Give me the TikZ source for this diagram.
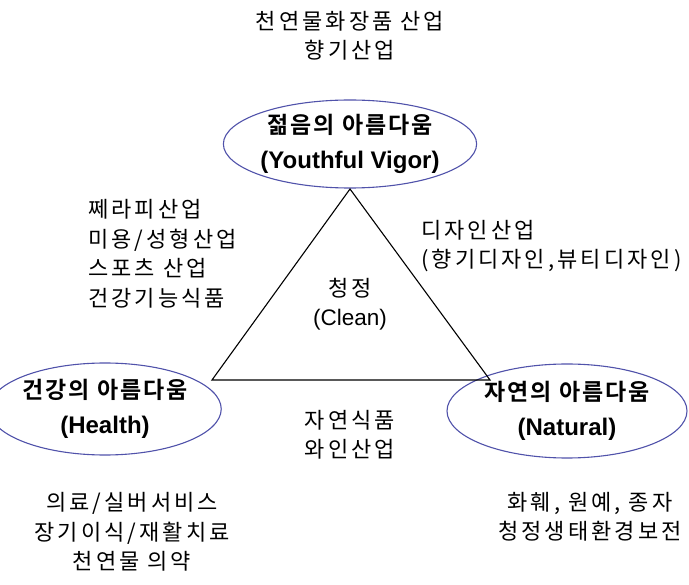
\documentclass[tikz,border=0pt]{standalone}
\usepackage{fontspec}
\usetikzlibrary{shapes.geometric}
\setmainfont{Liberation Sans}
\newfontfamily\kr[LetterSpace=14]{Noto Sans CJK KR}
\newfontfamily\krb[LetterSpace=8]{Noto Sans CJK KR Bold}
\definecolor{ellblue}{RGB}{80,82,170}
\tikzset{
  ell/.style={draw=ellblue, line width=1.1pt, ellipse, inner sep=0pt, align=center,
    font=\fontsize{24}{35}\selectfont},
  ttl/.style={font=\krb\fontsize{23}{35}\selectfont},
  txt/.style={inner sep=0pt, align=center, font=\kr\fontsize{22}{29.5}\selectfont},
  txtl/.style={inner sep=0pt, align=left, anchor=west, font=\kr\fontsize{22}{29.5}\selectfont},
  tri/.style={draw=black, line width=1.1pt}
}
\begin{document}
\begin{tikzpicture}[x=1pt,y=-1pt]
\useasboundingbox (0,0) rectangle (689,585);
% ellipses
\node[ell, minimum width=246pt, minimum height=88pt] (young) at (350,144)
  {{\krb\fontsize{23}{35}\selectfont 젊음의 아름다움}\\\bfseries (Youthful Vigor)};
\node[ell, minimum width=190pt, minimum height=92pt] (health) at (105,409)
  {{\krb\fontsize{23}{35}\selectfont 건강의 아름다움}\\\bfseries (Health)};
\node[ell, minimum width=240pt, minimum height=94pt] (natural) at (567,411)
  {{\krb\fontsize{23}{35}\selectfont 자연의 아름다움}\\\bfseries (Natural)};
% triangle
\coordinate (tA) at (350,189);
\coordinate (tB) at (212,380);
\coordinate (tC) at (490,380);
\draw[tri] (tA) -- (tB) -- (tC) -- cycle;
% texts
\node[txt] (top) at (350,36) {천연물화장품 산업\\향기산업};
\node[txtl] (leftblk) at (88,254) {쩨라피산업\\미용/성형산업\\스포츠 산업\\건강기능식품};
\node[txtl] (rightblk) at (421,246) {디자인산업\\(향기디자인,뷰티디자인)};
\node[txt] (clean) at (350,304) {청정\\{\rmfamily\fontsize{22.5}{29.5}\selectfont (Clean)}};
\node[txt] (mid) at (350,435) {자연식품\\와인산업};
\node[txt] (botl) at (132,532) {의료/실버서비스\\장기이식/재활치료\\천연물 의약};
\node[txt] (botr) at (590,517) {화훼, 원예, 종자\\청정생태환경보전};
\end{tikzpicture}
\end{document}
